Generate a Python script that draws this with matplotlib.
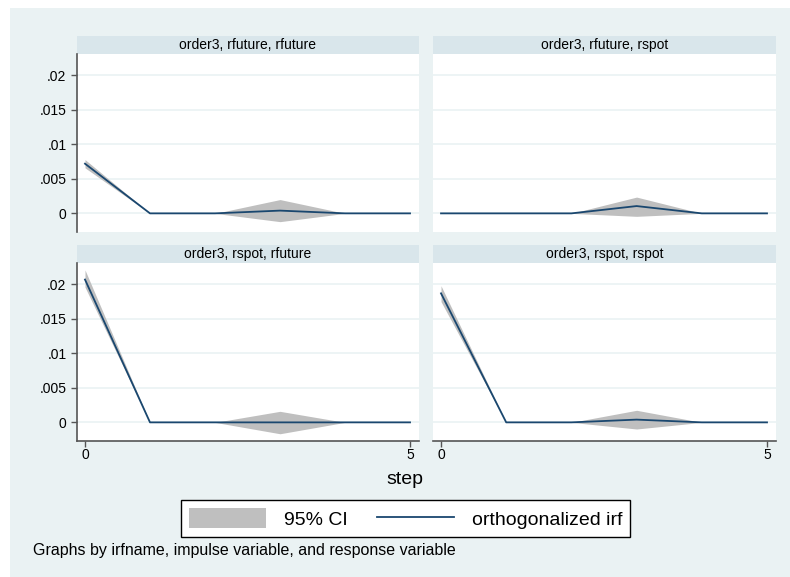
import matplotlib
matplotlib.use("Agg")
import matplotlib.pyplot as plt
from matplotlib.patches import Patch, Rectangle
from matplotlib.lines import Line2D
import numpy as np

plt.rcParams['font.family'] = ['Liberation Sans', 'DejaVu Sans']

# ---------------- #
#   Data (irf)     #
# ---------------- #
steps = [0, 1, 2, 3, 4, 5]
panel_titles = ['order3, rfuture, rfuture', 'order3, rfuture, rspot',
                'order3, rspot, rfuture', 'order3, rspot, rspot']

irf_ff = [0.0072, 0, 0, 0.0004, 0, 0]
lo_ff = [0.0066, 0, 0, -0.0012, 0, 0]
hi_ff = [0.0078, 0, 0, 0.0020, 0, 0]

irf_fs = [0, 0, 0, 0.00106, 0, 0]
lo_fs = [0, 0, 0, -0.00043, 0, 0]
hi_fs = [0, 0, 0, 0.00236, 0, 0]

irf_sf = [0.0207, 0, 0, 0.0000, 0, 0]
lo_sf = [0.0196, 0, 0, -0.00165, 0, 0]
hi_sf = [0.0221, 0, 0, 0.0016, 0, 0]

irf_ss = [0.0187, 0, 0, 0.0004, 0, 0]
lo_ss = [0.0175, 0, 0, -0.00096, 0, 0]
hi_ss = [0.0198, 0, 0, 0.00175, 0, 0]

yticks = [0, 0.005, 0.01, 0.015, 0.02]
ytick_labels = ['0', '.005', '.01', '.015', '.02']
xticks = [0, 5]

irf_list = [irf_ff, irf_fs, irf_sf, irf_ss]
lo_list = [lo_ff, lo_fs, lo_sf, lo_ss]
hi_list = [hi_ff, hi_fs, hi_sf, hi_ss]

# ---------------- #
#   Layout         #
# ---------------- #
W, H = 790, 577
bg = '#eaf2f3'
strip_col = '#d9e6eb'
line_col = '#1a476f'
ci_col = '#bfbfbf'
axis_col = '#555555'

fig = plt.figure(figsize=(W / 100, H / 100), dpi=100)
fig.patch.set_facecolor('white')
fig.patches.append(Rectangle((10 / W, 0), 1 - 10 / W, 1 - 8 / H,
                             transform=fig.transFigure, facecolor=bg,
                             edgecolor='none', zorder=-10))

def px_axes(x0, y0, x1, y1):
    return fig.add_axes([x0 / W, 1 - y1 / H, (x1 - x0) / W, (y1 - y0) / H])

cols = [(77, 419), (433, 776)]
rows = [(36, 54, 232), (245, 263, 441)]

for i in range(4):
    r, c = divmod(i, 2)
    x0, x1 = cols[c]
    s0, p0, p1 = rows[r]

    # strip header
    sax = px_axes(x0, s0, x1, p0)
    sax.set_facecolor(strip_col)
    sax.set_xticks([]); sax.set_yticks([])
    for sp in sax.spines.values():
        sp.set_visible(False)
    sax.text(0.5, 0.5, panel_titles[i], ha='center', va='center', fontsize=10,
             transform=sax.transAxes)

    ax = px_axes(x0, p0, x1, p1)
    ax.set_facecolor('white')
    ax.fill_between(steps, lo_list[i], hi_list[i], color=ci_col, linewidth=0, zorder=2)
    ax.plot(steps, irf_list[i], color=line_col, linewidth=1.3, zorder=3)
    ax.set_xlim(-0.123, 5.138)
    ax.set_ylim(-0.0027, 0.0231)
    ax.set_yticks(yticks)
    ax.set_xticks(xticks)
    ax.grid(axis='y', color=bg, linewidth=1.2, zorder=1)
    ax.grid(axis='x', visible=False)
    for sp in ax.spines.values():
        sp.set_visible(False)
    ax.tick_params(colors=axis_col, labelcolor='black', labelsize=10, length=4, width=1)
    if c == 0:
        ax.spines['left'].set_visible(True)
        ax.spines['left'].set_color(axis_col)
        ax.spines['left'].set_linewidth(1.2)
        ax.set_yticklabels(ytick_labels)
    else:
        ax.tick_params(axis='y', left=False, labelleft=False)
    if r == 1:
        ax.spines['bottom'].set_visible(True)
        ax.spines['bottom'].set_color(axis_col)
        ax.spines['bottom'].set_linewidth(1.2)
        ax.set_xticklabels([str(t) for t in xticks])
        ax.tick_params(axis='x', pad=1)
    else:
        ax.tick_params(axis='x', bottom=False, labelbottom=False)

fig.text(405 / W, 1 - 480 / H, 'step', ha='center', va='center', fontsize=14)

handles = [Patch(facecolor=ci_col, edgecolor='none'),
           Line2D([0], [0], color=line_col, linewidth=1.3)]
leg = fig.legend(handles, ['95% CI', 'orthogonalized irf'], ncol=2,
                 loc='center', bbox_to_anchor=(405.5 / W, 1 - 518.5 / H),
                 fontsize=14, frameon=True, fancybox=False, edgecolor='black',
                 framealpha=1, facecolor='white',
                 handlelength=4.0, handleheight=1.2, columnspacing=1.5,
                 handletextpad=0.9, borderpad=0.4)
leg.get_frame().set_linewidth(1.0)

fig.text(33 / W, 1 - 551 / H, 'Graphs by irfname, impulse variable, and response variable',
         ha='left', va='center', fontsize=11.5)

fig.savefig('out.png', dpi=100, facecolor=fig.get_facecolor())
